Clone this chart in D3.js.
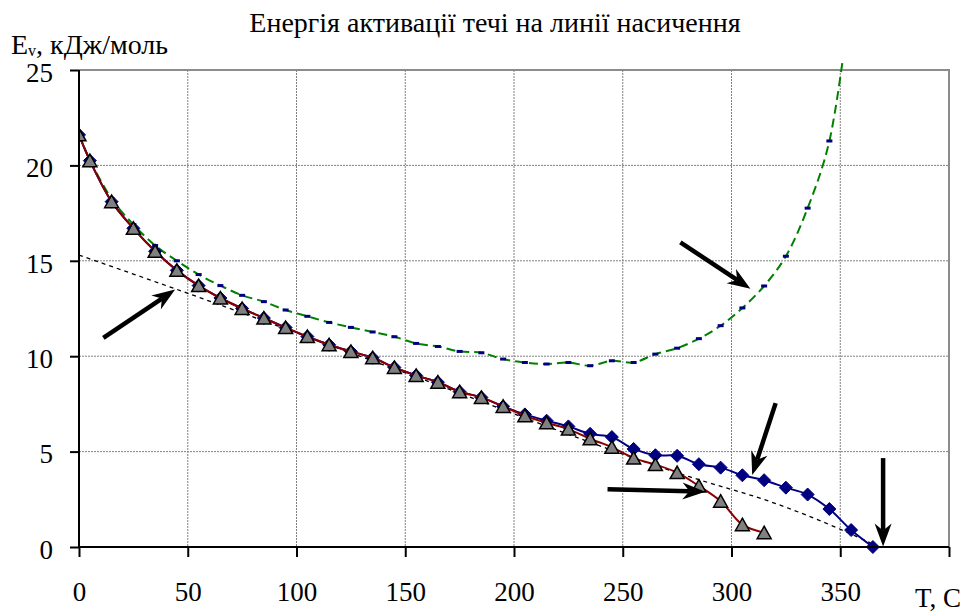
<!DOCTYPE html>
<html lang="uk">
<head>
<meta charset="UTF-8">
<title>Енергія активації течі на линії насичення</title>
<script src="https://d3js.org/d3.v7.min.js"></script>
<style>
  body { margin: 0; background: #fff; }
  svg text { font-family: "Liberation Serif", "Times New Roman", serif; fill: #000; }
</style>
</head>
<body>
<div id="chart"></div>
<script>
var serif = "'Liberation Serif', 'Times New Roman', serif";

// temperature points, C
var temps = [0, 5, 15, 25, 35, 45, 55, 65, 75, 85, 95, 105, 115, 125, 135, 145, 155, 165, 175,
             185, 195, 205, 215, 225, 235, 245, 255, 265, 275, 285, 295, 305, 315, 325, 335, 345, 355, 365];

// blue diamonds (runs to 365)
var blueVals = [21.6, 20.25, 18.1, 16.7, 15.5, 14.5, 13.7, 13.05, 12.5, 12.0, 11.5, 11.03, 10.6, 10.25,
                9.92, 9.41, 8.99, 8.64, 8.14, 7.84, 7.37, 6.95, 6.62, 6.32, 5.93, 5.76, 5.14, 4.81,
                4.78, 4.34, 4.16, 3.76, 3.5, 3.11, 2.75, 1.99, 0.89, 0];

// grey triangles on dark red line (runs to 315)
var redVals = [21.6, 20.25, 18.1, 16.7, 15.5, 14.5, 13.7, 13.05, 12.5, 12.0, 11.5, 11.03, 10.6, 10.25,
               9.92, 9.41, 8.99, 8.64, 8.14, 7.84, 7.37, 6.88, 6.51, 6.18, 5.67, 5.23, 4.66, 4.32,
               3.9, 3.2, 2.4, 1.17, 0.75];

// green dashed line with small markers (runs to 355, last point off the top)
var greenVals = [21.6, 20.3, 18.25, 16.9, 15.8, 15.0, 14.28, 13.7, 13.19, 12.86, 12.42, 12.09, 11.77,
                 11.51, 11.27, 11.02, 10.67, 10.51, 10.25, 10.18, 9.85, 9.67, 9.59, 9.67, 9.5, 9.76,
                 9.67, 10.11, 10.42, 10.92, 11.6, 12.53, 13.68, 15.24, 17.76, 21.28, 29];

// black dotted line
var dotT = [0, 45, 140, 281, 320, 350, 367];
var dotE = [15.3, 13.5, 9.55, 3.67, 2.29, 0.93, 0.05];

// tick values
var xTicks = [0, 50, 100, 150, 200, 250, 300, 350, 400];
var yTicks = [0, 5, 10, 15, 20, 25];

// annotation arrows, [tail, tip] in data units
var arrows = [
  [[11.2, 10.96], [44.2, 13.49]],
  [[276.5, 15.97], [308.7, 13.53]],
  [[320.3, 7.54], [309.5, 3.78]],
  [[243, 3.03], [288, 2.9]],
  [[369.7, 4.66], [369.7, 0.02]]
];

var W = 971, H = 614;
var margin = { top: 70, right: 22, bottom: 67, left: 79 },
    width = W - margin.left - margin.right,
    height = H - margin.top - margin.bottom;

var svg = d3.select("#chart").append("svg")
    .attr("width", W)
    .attr("height", H);

var g = svg.append("g")
    .attr("transform", "translate(" + margin.left + "," + margin.top + ")");

var x = d3.scaleLinear().domain([0, 400]).range([0, width]);
var y = d3.scaleLinear().domain([0, 25]).range([height, 0]);

// gridlines
g.append("g").selectAll("line")
    .data(yTicks.slice(1))
    .enter().append("line")
    .attr("x1", 0).attr("x2", width)
    .attr("y1", function (d) { return y(d); })
    .attr("y2", function (d) { return y(d); })
    .style("stroke", "#808080")
    .style("stroke-width", 1)
    .style("stroke-dasharray", "2,1");

g.append("g").selectAll("line")
    .data(xTicks.slice(1))
    .enter().append("line")
    .attr("y1", 0).attr("y2", height)
    .attr("x1", function (d) { return x(d); })
    .attr("x2", function (d) { return x(d); })
    .style("stroke", "#808080")
    .style("stroke-width", 1)
    .style("stroke-dasharray", "2,1");

// plot border top/right
g.append("path")
    .attr("d", "M0,0H" + width + "V" + height)
    .style("fill", "none")
    .style("stroke", "#8c8c8c")
    .style("stroke-width", 2);

// clip
svg.append("defs").append("clipPath").attr("id", "clip")
    .append("rect")
    .attr("x", 0).attr("y", -7)
    .attr("width", width).attr("height", height + 14);

var plot = g.append("g").attr("clip-path", "url(#clip)");

var smooth = d3.curveCatmullRom.alpha(0.5);

// dotted line
plot.append("path")
    .datum(dotT.map(function (t, i) { return [t, dotE[i]]; }))
    .attr("d", d3.line().x(function (d) { return x(d[0]); }).y(function (d) { return y(d[1]); })
        .curve(d3.curveMonotoneX))
    .style("fill", "none")
    .style("stroke", "#000")
    .style("stroke-width", 1.3)
    .style("stroke-dasharray", "4,4");

// green series
var greenData = greenVals.map(function (v, i) { return [temps[i], v]; });
plot.append("path")
    .datum(greenData)
    .attr("d", d3.line().x(function (d) { return x(d[0]); }).y(function (d) { return y(d[1]); }).curve(smooth))
    .style("fill", "none")
    .style("stroke", "#008000")
    .style("stroke-width", 2)
    .style("stroke-dasharray", "9,5");

plot.selectAll(".gmark")
    .data(greenData)
    .enter().append("rect")
    .attr("class", "gmark")
    .attr("x", function (d) { return x(d[0]) - 3; })
    .attr("y", function (d) { return y(d[1]) - 1.5; })
    .attr("width", 6)
    .attr("height", 3)
    .style("fill", "#000080");

// blue series
var blueData = blueVals.map(function (v, i) { return [temps[i], v]; });
plot.append("path")
    .datum(blueData)
    .attr("d", d3.line().x(function (d) { return x(d[0]); }).y(function (d) { return y(d[1]); }).curve(smooth))
    .style("fill", "none")
    .style("stroke", "#000080")
    .style("stroke-width", 2);

plot.selectAll(".diamond")
    .data(blueData)
    .enter().append("path")
    .attr("class", "diamond")
    .attr("transform", function (d) { return "translate(" + x(d[0]) + "," + y(d[1]) + ")"; })
    .attr("d", "M0,-6.5L6.5,0L0,6.5L-6.5,0Z")
    .style("fill", "#000080")
    .style("stroke", "#000080")
    .style("stroke-width", 1);

// red series with triangles
var redData = redVals.map(function (v, i) { return [temps[i], v]; });
plot.append("path")
    .datum(redData)
    .attr("d", d3.line().x(function (d) { return x(d[0]); }).y(function (d) { return y(d[1]); }).curve(smooth))
    .style("fill", "none")
    .style("stroke", "#8b0000")
    .style("stroke-width", 2);

plot.selectAll(".tri")
    .data(redData)
    .enter().append("path")
    .attr("class", "tri")
    .attr("transform", function (d) { return "translate(" + x(d[0]) + "," + y(d[1]) + ")"; })
    .attr("d", "M0,-6.5L7,6L-7,6Z")
    .style("fill", "#808080")
    .style("stroke", "#000")
    .style("stroke-width", 1.5)
    .style("stroke-linejoin", "miter");

// axes
var yAxis = g.append("g")
    .call(d3.axisLeft(y).tickValues(yTicks).tickSize(9).tickPadding(17).tickFormat(d3.format("d")));
var xAxis = g.append("g")
    .attr("transform", "translate(0," + height + ")")
    .call(d3.axisBottom(x).tickValues(xTicks).tickSize(10).tickPadding(25)
        .tickFormat(function (d) { return d === 400 ? "" : d; }));

[xAxis, yAxis].forEach(function (a) {
    a.attr("font-family", serif);
    a.select(".domain").style("stroke", "#000").style("stroke-width", 2)
        .attr("d", a === xAxis ? "M0,0H" + width : "M0," + height + "V0");
    a.selectAll(".tick line").style("stroke", "#000").style("stroke-width", 2);
    a.selectAll(".tick text")
        .attr("font-family", serif)
        .style("font-size", "27px")
        .style("fill", "#000");
});
yAxis.selectAll(".tick text").attr("dy", "0.42em");

// arrows
arrows.forEach(function (a) {
    var x0 = x(a[0][0]), y0 = y(a[0][1]), x1 = x(a[1][0]), y1 = y(a[1][1]);
    var ang = Math.atan2(y1 - y0, x1 - x0);
    var len = 23, half = 8.5, notch = 16;
    var c = Math.cos(ang), s = Math.sin(ang);
    var bx = x1 - len * c, by = y1 - len * s;
    var nx = x1 - notch * c, ny = y1 - notch * s;
    g.append("line")
        .attr("x1", x0).attr("y1", y0).attr("x2", nx).attr("y2", ny)
        .style("stroke", "#000").style("stroke-width", 4.5);
    g.append("path")
        .attr("d", "M" + x1 + "," + y1 +
            "L" + (bx - half * s) + "," + (by + half * c) +
            "L" + nx + "," + ny +
            "L" + (bx + half * s) + "," + (by - half * c) + "Z")
        .style("fill", "#000");
});

// titles
svg.append("text")
    .attr("x", 495)
    .attr("y", 32)
    .attr("text-anchor", "middle")
    .attr("font-family", serif)
    .style("font-size", "28px")
    .text("Енергія активації течі на линії насичення");

var yl = svg.append("text")
    .attr("x", 11)
    .attr("y", 54)
    .attr("font-family", serif)
    .style("font-size", "28px");
yl.append("tspan").text("E");
yl.append("tspan").attr("dy", 2).style("font-size", "16px").text("v");
yl.append("tspan").attr("dy", -2).text(", кДж/моль");

svg.append("text")
    .attr("x", 915)
    .attr("y", 607)
    .attr("font-family", serif)
    .style("font-size", "27px")
    .text("T, C");
</script>
</body>
</html>
